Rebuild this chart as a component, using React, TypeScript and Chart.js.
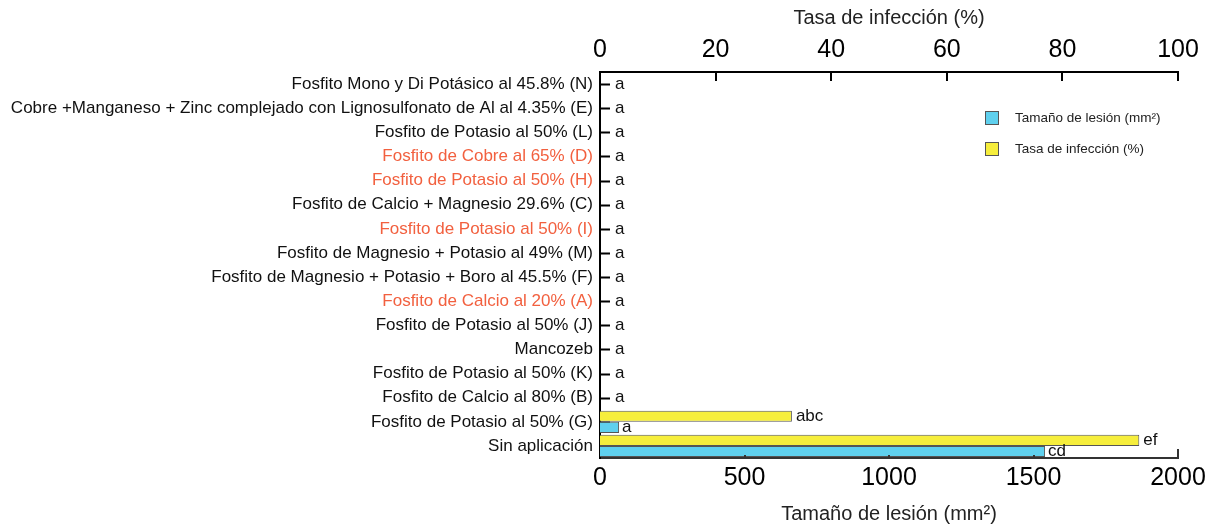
import React, { useEffect, useRef } from 'react';
import { Chart, registerables } from 'chart.js';

Chart.register(...registerables);

const categories: string[] = [
  'Fosfito Mono y Di Potásico al 45.8% (N)',
  'Cobre +Manganeso + Zinc complejado con Lignosulfonato de Al al 4.35% (E)',
  'Fosfito de Potasio al 50% (L)',
  'Fosfito de Cobre al 65% (D)',
  'Fosfito de Potasio al 50% (H)',
  'Fosfito de Calcio + Magnesio 29.6% (C)',
  'Fosfito de Potasio al 50% (I)',
  'Fosfito de Magnesio + Potasio al 49% (M)',
  'Fosfito de Magnesio + Potasio + Boro al 45.5% (F)',
  'Fosfito de Calcio al 20% (A)',
  'Fosfito de Potasio al 50% (J)',
  'Mancozeb',
  'Fosfito de Potasio al 50% (K)',
  'Fosfito de Calcio al 80% (B)',
  'Fosfito de Potasio al 50% (G)',
  'Sin aplicación',
];

const highlightedCategories: string[] = [
  'Fosfito de Cobre al 65% (D)',
  'Fosfito de Potasio al 50% (H)',
  'Fosfito de Potasio al 50% (I)',
  'Fosfito de Calcio al 20% (A)',
];

// Tasa de infección (%) — top axis
const infectionRate: number[] = [0, 0, 0, 0, 0, 0, 0, 0, 0, 0, 0, 0, 0, 0, 33.2, 93.3];
// Tamaño de lesión (mm²) — bottom axis
const lesionSize: number[] = [0, 0, 0, 0, 0, 0, 0, 0, 0, 0, 0, 0, 0, 0, 66, 1540];

const infectionLetters: string[] = ['', '', '', '', '', '', '', '', '', '', '', '', '', '', 'abc', 'ef'];
const lesionLetters: string[] = ['a', 'a', 'a', 'a', 'a', 'a', 'a', 'a', 'a', 'a', 'a', 'a', 'a', 'a', 'a', 'cd'];

const lesionTicks: number[] = [0, 500, 1000, 1500, 2000];
const infectionTicks: number[] = [0, 20, 40, 60, 80, 100];

const FONT = '"Liberation Sans", Arial, Helvetica, sans-serif';
const BLUE = '#5fd0ee';
const YELLOW = '#f6ee3c';
const RED = '#f2603f';

const decorPlugin = {
  id: 'decor',
  beforeDatasetsDraw(chart: any) {
    const { ctx } = chart;
    const y = chart.scales.y;
    ctx.save();
    ctx.strokeStyle = '#000';
    ctx.lineWidth = 2;
    categories.forEach((_, i) => {
      const py = Math.round(y.getPixelForValue(i)) + 0.5;
      ctx.beginPath();
      ctx.moveTo(chart.chartArea.left, py);
      ctx.lineTo(chart.chartArea.left + 10, py);
      ctx.stroke();
    });
    ctx.restore();
  },
  afterDatasetsDraw(chart: any) {
    const { ctx, chartArea } = chart;
    const x = chart.scales.x;
    const x2 = chart.scales.x2;
    const y = chart.scales.y;
    ctx.save();
    ctx.strokeStyle = '#000';
    ctx.lineWidth = 2;
    infectionTicks.forEach((v) => {
      if (v === 0) return;
      const px = Math.round(x2.getPixelForValue(v));
      ctx.beginPath();
      ctx.moveTo(px, chartArea.top);
      ctx.lineTo(px, chartArea.top + 9);
      ctx.stroke();
    });
    ctx.strokeStyle = '#333';
    lesionTicks.forEach((v) => {
      if (v === 0) return;
      const px = Math.round(x.getPixelForValue(v));
      const len = v === lesionTicks[lesionTicks.length - 1] ? 9 : 3;
      ctx.beginPath();
      ctx.moveTo(px, chartArea.bottom);
      ctx.lineTo(px, chartArea.bottom - len);
      ctx.stroke();
    });

    ctx.fillStyle = '#111';
    ctx.font = `17px ${FONT}`;
    ctx.textBaseline = 'middle';
    ctx.textAlign = 'left';
    const metaInf = chart.getDatasetMeta(0);
    const metaLes = chart.getDatasetMeta(1);
    categories.forEach((_, i) => {
      if (infectionRate[i] === 0 && lesionSize[i] === 0) {
        ctx.fillText(lesionLetters[i], chartArea.left + 15, y.getPixelForValue(i));
        return;
      }
      const bi = metaInf.data[i];
      const bl = metaLes.data[i];
      if (infectionLetters[i]) ctx.fillText(infectionLetters[i], bi.x + 4, bi.y);
      if (lesionLetters[i]) ctx.fillText(lesionLetters[i], bl.x + 3, bl.y);
    });

    const items = [
      { color: BLUE, text: 'Tamaño de lesión (mm²)', y: 118 },
      { color: YELLOW, text: 'Tasa de infección (%)', y: 149 },
    ];
    ctx.font = `13.5px ${FONT}`;
    items.forEach((it) => {
      ctx.fillStyle = it.color;
      ctx.fillRect(985, it.y - 7, 14, 14);
      ctx.strokeStyle = '#555';
      ctx.lineWidth = 1;
      ctx.strokeRect(985.5, it.y - 6.5, 13, 13);
      ctx.fillStyle = '#222';
      ctx.fillText(it.text, 1015, it.y);
    });
    ctx.restore();
  },
};

export default function App() {
  const ref = useRef<HTMLCanvasElement | null>(null);

  useEffect(() => {
    document.body.style.margin = '0';
    if (!ref.current) return;
    const chart = new Chart(ref.current, {
      type: 'bar',
      data: {
        labels: categories,
        datasets: [
          {
            label: 'Tasa de infección (%)',
            data: infectionRate,
            xAxisID: 'x2',
            backgroundColor: YELLOW,
            borderColor: '#555',
            borderWidth: 1,
            categoryPercentage: 0.92,
            barPercentage: 1,
          },
          {
            label: 'Tamaño de lesión (mm²)',
            data: lesionSize,
            xAxisID: 'x',
            backgroundColor: BLUE,
            borderColor: '#555',
            borderWidth: 1,
            categoryPercentage: 0.92,
            barPercentage: 1,
          },
        ],
      },
      options: {
        indexAxis: 'y',
        animation: false,
        responsive: false,
        layout: { padding: { left: 0, right: 35, top: 0, bottom: 0 } },
        plugins: { legend: { display: false }, tooltip: { enabled: false } },
        scales: {
          x: {
            type: 'linear',
            position: 'bottom',
            min: 0,
            max: 2000,
            afterBuildTicks: (s: any) => {
              s.ticks = lesionTicks.map((v) => ({ value: v }));
            },
            afterFit: (s: any) => {
              s.height = 72;
            },
            grid: { display: false, drawTicks: false },
            border: { display: true, color: '#333', width: 2 },
            ticks: {
              color: '#000',
              font: { family: FONT, size: 25 },
              padding: 5,
              maxRotation: 0,
              callback: (v: any) => String(v),
            },
            title: {
              display: true,
              text: 'Tamaño de lesión (mm²)',
              color: '#222',
              font: { family: FONT, size: 20 },
              padding: { top: 0, bottom: 4 },
            },
          },
          x2: {
            type: 'linear',
            position: 'top',
            min: 0,
            max: 100,
            afterBuildTicks: (s: any) => {
              s.ticks = infectionTicks.map((v) => ({ value: v }));
            },
            afterFit: (s: any) => {
              s.height = 72;
            },
            grid: { display: false, drawTicks: false },
            border: { display: true, color: '#000', width: 2 },
            ticks: {
              color: '#000',
              font: { family: FONT, size: 25 },
              padding: 7,
              maxRotation: 0,
              callback: (v: any) => String(v),
            },
            title: {
              display: true,
              text: 'Tasa de infección (%)',
              color: '#222',
              font: { family: FONT, size: 20 },
              padding: { top: 6, bottom: 0 },
            },
          },
          y: {
            type: 'category',
            afterFit: (s: any) => {
              s.width = 600;
            },
            grid: { display: false, drawTicks: false },
            border: { display: true, color: '#000', width: 2 },
            ticks: {
              autoSkip: false,
              padding: 7,
              font: { family: FONT, size: 17 },
              color: (c: any) =>
                highlightedCategories.includes(categories[c.index]) ? RED : '#111',
            },
          },
        },
      },
      plugins: [decorPlugin],
    });
    return () => chart.destroy();
  }, []);

  return (
    <div style={{ position: 'fixed', left: 0, top: 0, width: 1213, height: 530, background: '#fff' }}>
      <canvas ref={ref} width={1213} height={530} />
    </div>
  );
}
